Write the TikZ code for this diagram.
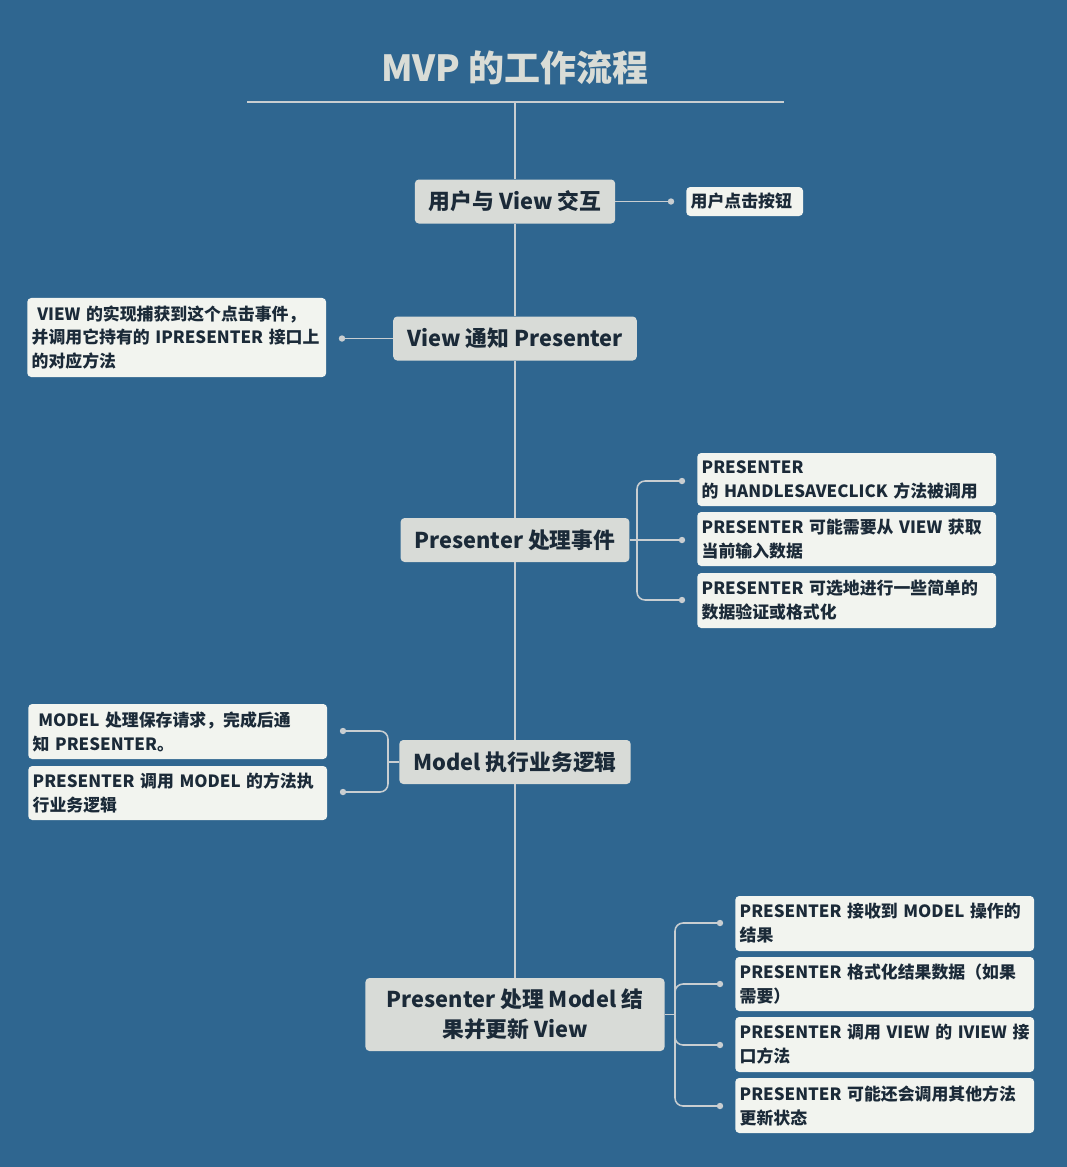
\documentclass[tikz,border=0pt]{standalone}
\usepackage{fontspec}
\setmainfont{Noto Sans CJK SC}
\usetikzlibrary{positioning}
\definecolor{bgblue}{HTML}{2F6690}
\definecolor{stagegray}{HTML}{D8DBD7}
\definecolor{notewhite}{HTML}{F2F4EF}
\definecolor{inkdark}{HTML}{1B2A38}
\definecolor{linegray}{HTML}{C9CED1}
\definecolor{titlegray}{HTML}{D9DCD6}

\begin{document}
\begin{tikzpicture}[x=0.025cm,y=-0.025cm,
  stage/.style={fill=stagegray, rounded corners=0.1cm, text=inkdark,
    font=\bfseries\fontsize{15.5}{21}\selectfont, inner xsep=0.35cm, minimum height=1.1cm},
  note/.style={fill=notewhite, rounded corners=0.1cm, text=inkdark,
    font=\bfseries\fontsize{12}{17}\selectfont, text width=7.25cm, align=left,
    inner xsep=0.11cm, anchor=west},
  link/.style={draw=linegray, line width=1.1pt},
  knob/.style={fill=linegray}]
  % background and margins
  \fill[bgblue] (0,0) rectangle (1067,1167);
  \useasboundingbox (0,0) rectangle (1067,1167);

  % title
  \node[text=titlegray, font=\bfseries\fontsize{25.6}{30}\selectfont] (title) at (515,68) {MVP 的工作流程};
  \coordinate (rulel) at (247,102);
  \coordinate (ruler) at (784,102);
  \coordinate (top) at (515,102);
  \draw[link] (rulel) -- (ruler);

  % main stages
  \node[stage] (m1) at (515,201.5) {用户与 View 交互};
  \node[stage] (m2) at (515,338.5) {View 通知 Presenter};
  \node[stage] (m3) at (515,540) {Presenter 处理事件};
  \node[stage] (m4) at (515,762) {Model 执行业务逻辑};
  \node[stage, align=center, minimum width=7.475cm, minimum height=1.825cm] (m5) at (515,1014.5)
    {Presenter 处理 Model 结\\果并更新 View};

  \draw[link] (top) -- (m1);
  \draw[link] (m1) -- (m2);
  \draw[link] (m2) -- (m3);
  \draw[link] (m3) -- (m4);
  \draw[link] (m4) -- (m5);

  % notes
  \node[note, text width=2.7cm, minimum height=0.725cm] (s1) at (686,201.5) {用户点击按钮};
  \node[note, minimum height=1.975cm] (s2) at (27,337.5)
    {~VIEW~的实现捕获到这个点击事件，\\并调用它持有的~IPRESENTER~接口上\\的对应方法};
  \node[note, minimum height=1.325cm] (s3a) at (697,479.5) {PRESENTER\\的~HANDLESAVECLICK~方法被调用};
  \node[note, minimum height=1.35cm] (s3b) at (697,539) {PRESENTER~可能需要从~VIEW~获取\\当前输入数据};
  \node[note, minimum height=1.375cm] (s3c) at (697,600.5) {PRESENTER~可选地进行一些简单的\\数据验证或格式化};
  \node[note, minimum height=1.375cm] (s4a) at (28,731.5) {~MODEL~处理保存请求，完成后通\\知~PRESENTER。};
  \node[note, minimum height=1.35cm] (s4b) at (28,793) {PRESENTER~调用~MODEL~的方法执\\行业务逻辑};
  \node[note, minimum height=1.375cm] (s5a) at (735,923.5) {PRESENTER~接收到~MODEL~操作的\\结果};
  \node[note, minimum height=1.35cm] (s5b) at (735,984) {PRESENTER~格式化结果数据（如果\\需要）};
  \node[note, minimum height=1.375cm] (s5c) at (735,1044.5) {PRESENTER~调用~VIEW~的~IVIEW~接\\口方法};
  \node[note, minimum height=1.375cm] (s5d) at (735,1105.5) {PRESENTER~可能还会调用其他方法\\更新状态};

  % knobs
  \coordinate (d1) at (671,201.5);
  \coordinate (d2) at (342,338.5);
  \coordinate (d3a) at (682,481);
  \coordinate (d3b) at (682,540);
  \coordinate (d3c) at (682,600);
  \coordinate (d4a) at (343,731);
  \coordinate (d4b) at (343,792);
  \coordinate (d5a) at (720,923);
  \coordinate (d5b) at (720,984);
  \coordinate (d5c) at (720,1045);
  \coordinate (d5d) at (720,1106);
  \coordinate (b3) at (637,540);
  \coordinate (b4) at (388,762);
  \coordinate (b5) at (675,1014.5);

  \draw[link] (m1.east) -- (d1);
  \draw[link] (m2.west) -- (d2);
  \draw[link] (m3.east) -- (b3) -- (d3b);
  \draw[link, rounded corners=0.2cm] (b3) |- (d3a);
  \draw[link, rounded corners=0.2cm] (b3) |- (d3c);
  \draw[link] (m4.west) -- (b4);
  \draw[link, rounded corners=0.2cm] (b4) |- (d4a);
  \draw[link, rounded corners=0.2cm] (b4) |- (d4b);
  \draw[link] (m5.east) -- (b5);
  \foreach \d in {d5a,d5b,d5c,d5d}
    \draw[link, rounded corners=0.2cm] (b5) |- (\d);

  \foreach \d in {d1,d2,d3a,d3b,d3c,d4a,d4b,d5a,d5b,d5c,d5d}
    \fill[knob] (\d) circle (0.08cm);
\end{tikzpicture}
\end{document}
